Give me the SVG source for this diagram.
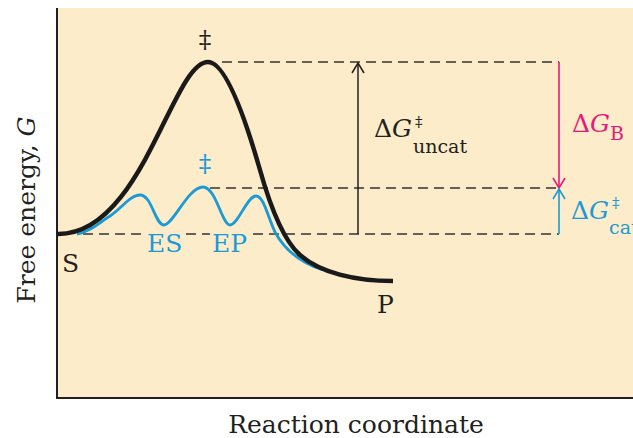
<svg xmlns="http://www.w3.org/2000/svg" width="633" height="438" viewBox="0 0 633 438">
<style>
text{font-family:"DejaVu Serif","Liberation Serif",serif;font-size:25px;fill:#231f20}
.b{fill:#1a9ad6}
.p{fill:#e8197c}
.sub{font-size:19px}
.sup{font-size:15px}
.dash{stroke:#333;stroke-width:1.6;stroke-dasharray:10 6;fill:none}
</style>
<rect x="0" y="0" width="633" height="438" fill="#fff"/>
<rect x="57" y="8" width="576" height="390" fill="#fdecc9"/>
<g id="axes" stroke="#231f20" stroke-width="2" fill="none">
<line x1="57" y1="8" x2="57" y2="399"/>
<line x1="56" y1="398" x2="633" y2="398"/>
</g>
<g id="connectors">
<line class="dash" x1="222" y1="62" x2="559" y2="62"/>
<line class="dash" x1="210" y1="188" x2="559" y2="188"/>
<polyline class="dash" points="83,234 145,234"/>
<polyline class="dash" points="186,234 210,234"/>
<line class="dash" x1="253" y1="234" x2="559" y2="234"/>
<g stroke="#231f20" stroke-width="1.5" fill="none">
<line x1="358" y1="234" x2="358" y2="64"/>
<polyline points="352,73 358,63 364,73"/>
</g>
<g stroke="#e8197c" stroke-width="1.6" fill="none">
<line x1="559" y1="62" x2="559" y2="187"/>
<polyline points="553,178 559,188 565,178"/>
</g>
<g stroke="#1a9ad6" stroke-width="1.6" fill="none">
<line x1="559" y1="234" x2="559" y2="190"/>
<polyline points="553,199 559,189 565,199"/>
</g>
</g>
<g id="catalyzed">
<path d="M77,234 C90,232 100,222 110,216 C122,208 130,195 140,195 C152,195 155,225 164,225 C173,225 188,187 203,187 C216,187 222,225 230,225 C238,225 247,196 256,196 C264,196 268,218 275,232 C283,247 298,262 323,270" fill="none" stroke="#1a9ad6" stroke-width="2.8"/>
</g>
<g id="uncatalyzed">
<path d="M57,234 C142,236 172,62 208,62 C228,62 250,135 260,170 C269,202 283,240 300,255 C320,272.6 355,281 393,281" fill="none" stroke="#1a1a1a" stroke-width="4.5"/>
</g>
<g id="labels">
<text x="205" y="48" text-anchor="middle" font-size="22">‡</text>
<text x="205" y="172" text-anchor="middle" class="b" font-size="22">‡</text>
<text x="147" y="252" class="b">ES</text>
<text x="212" y="252" class="b">EP</text>
<text x="62" y="272">S</text>
<text x="377" y="313">P</text>
<text x="374" y="137">Δ<tspan font-style="italic">G</tspan></text>
<text x="415" y="127" class="sup">‡</text>
<text x="413" y="153" class="sub">uncat</text>
<text x="572" y="132" class="p">Δ<tspan font-style="italic">G</tspan></text>
<text x="610" y="140" class="p sub">B</text>
<text x="571" y="219" class="b">Δ<tspan font-style="italic">G</tspan></text>
<text x="612" y="208" class="b sup">‡</text>
<text x="609" y="234" class="b sub">cat</text>
<text transform="translate(35,210) rotate(-90)" text-anchor="middle">Free energy, <tspan font-style="italic">G</tspan></text>
<text x="356" y="433" text-anchor="middle">Reaction coordinate</text>
</g>
</svg>
